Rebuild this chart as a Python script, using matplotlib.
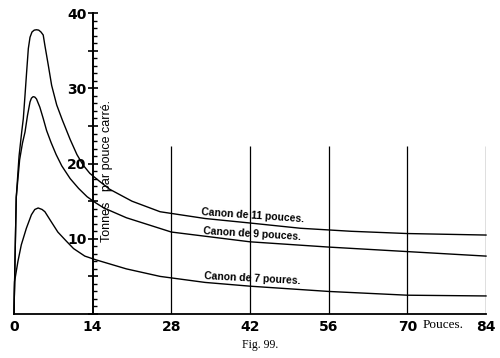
import matplotlib
matplotlib.use('Agg')
import matplotlib.pyplot as plt
from matplotlib.ticker import MultipleLocator, FixedLocator, FuncFormatter

# distance parcourue (pouces) -> pression (tonnes par pouce carre)
x_11 = [0, 0.2, 0.4, 0.9, 1.37, 1.66, 1.96, 2.25, 2.55, 2.85, 3.2, 3.6, 4.0, 4.4, 4.8, 5.2, 5.5,
        6.1, 6.7, 7.6, 8.6, 10.0, 11.2, 12.3, 13.5, 15.3, 17, 21, 26, 34, 42, 51, 60, 70, 84]
y_11 = [0, 8, 15.5, 21, 24.2, 26.0, 29.1, 32.2, 35.3, 36.8, 37.5, 37.75, 37.8, 37.75, 37.5, 37.1, 35.7,
        33.1, 30.4, 27.8, 25.8, 23.2, 21.2, 19.8, 18.7, 17.6, 16.6, 15.0, 13.6, 12.7, 12.1, 11.4, 11.0, 10.7, 10.5]

x_9 = [0, 0.2, 0.4, 1.0, 1.5, 1.96, 2.4, 2.85, 3.1, 3.4, 3.7, 4.0, 4.6, 5.2, 5.8, 6.6, 7.5, 8.5,
       10.0, 11.5, 13.0, 14.5, 16, 20, 28, 42, 56, 70, 84]
y_9 = [0, 8, 15.5, 20.5, 22.7, 24.2, 26.4, 28.2, 28.7, 28.9, 28.85, 28.6, 27.5, 26.0, 24.4, 22.8, 21.2, 19.7,
       18.0, 16.7, 15.6, 14.8, 14.1, 12.8, 10.9, 9.6, 8.9, 8.3, 7.7]

x_7 = [0, 0.1, 0.7, 1.3, 2.2, 3.1, 3.7, 4.3, 5.0, 5.5, 6.6, 7.8, 9.3, 10.6, 12.6, 14.6, 20, 26,
       34, 42, 56, 70, 84]
y_7 = [0, 4.3, 7.0, 9.2, 11.4, 13.2, 13.9, 14.1, 13.9, 13.6, 12.3, 10.9, 9.7, 8.7, 7.7, 7.2, 6.0, 5.0,
       4.2, 3.7, 3.0, 2.5, 2.4]

x_ticks = [0, 14, 28, 42, 56, 70, 84]
grid_x = [28, 42, 56, 70, 84]
grid_top = 22.3

labels = ["Canon de 11 pouces.", "Canon de 9 pouces.", "Canon de 7 poures."]
label_pos = [(42.5, 13.1, -4), (42.3, 10.7, -3.5), (42.5, 4.7, -3)]

fig = plt.figure(figsize=(5, 3.58), dpi=100)
ax = fig.add_axes([0.028, 0.1229, 0.944, 0.8402])
ax.set_xlim(0, 84)
ax.set_ylim(0, 40)

for xs, ys in [(x_11, y_11), (x_9, y_9), (x_7, y_7)]:
    ax.plot(xs, ys, color='black', lw=1.0, clip_on=False, solid_joinstyle='round')

ax.vlines(grid_x, 0, grid_top, color='black', lw=0.9)

# the scale of pressures stands at 14 pouces
ax.spines['left'].set_position(('data', 14))
ax.spines['left'].set_linewidth(1.4)
ax.spines['bottom'].set_linewidth(1.3)
ax.spines['top'].set_visible(False)
ax.spines['right'].set_visible(False)

ax.yaxis.set_major_locator(MultipleLocator(5))
ax.yaxis.set_minor_locator(MultipleLocator(1))
ax.yaxis.set_major_formatter(FuncFormatter(lambda v, p: '%d' % v if v > 0 and v % 10 == 0 else ''))
ax.tick_params(axis='y', which='major', direction='inout', length=7, width=1.2, pad=1,
               labelsize=10)
ax.tick_params(axis='y', which='minor', direction='in', length=3, width=1.0)
for t in ax.get_yticklabels():
    t.set_fontweight('bold')

ax.xaxis.set_major_locator(FixedLocator(x_ticks))
ax.tick_params(axis='x', length=0, pad=4, labelsize=10)
for t in ax.get_xticklabels():
    t.set_fontweight('bold')

ax.text(16.6, 19.0, "Tonnes   par pouce carré.", rotation=90, ha='center', va='center',
        family='Liberation Sans', fontsize=9)

for txt, (lx, ly, rot) in zip(labels, label_pos):
    ax.text(lx, ly, txt, rotation=rot, ha='center', va='center', rotation_mode='anchor',
            family='Liberation Sans', fontweight='bold', fontsize=7.5)

ax.text(72.8, -1.5, "Pouces.", ha='left', va='center', family='Liberation Serif',
        fontsize=9.5, clip_on=False)

fig.text(0.52, 0.036, "Fig. 99.", ha='center', va='center', family='Liberation Serif',
         fontsize=8.5)

fig.savefig('out.png', dpi=100)
